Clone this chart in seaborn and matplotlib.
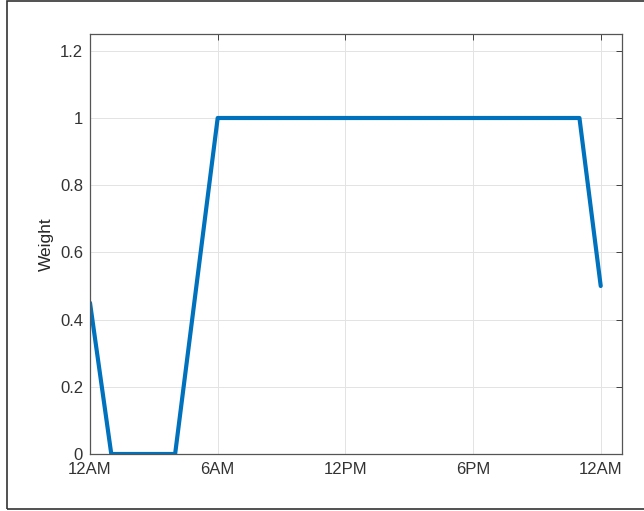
import pandas as pd
import numpy as np
import seaborn as sns
import matplotlib.pyplot as plt
from matplotlib.patches import Rectangle

# data: hour of day vs weight
hours = [0, 1, 4, 6, 23, 24]
weights = [0.45, 0, 0, 1, 1, 0.5]
tick_hours = [0, 6, 12, 18, 24]
tick_labels = ['12AM', '6AM', '12PM', '6PM', '12AM']

df = pd.DataFrame({'hour': hours, 'Weight': weights})

sns.set_style('white')
plt.rcParams['font.family'] = ['Liberation Sans', 'DejaVu Sans']

fig = plt.figure(figsize=(6.44, 5.11), dpi=100)
ax = fig.add_axes([90 / 644, 57 / 511, 532 / 644, 420 / 511])

sns.lineplot(data=df, x='hour', y='Weight', color='#0072BD', linewidth=3.0,
             ax=ax, sort=False)

ax.set_xlim(0, 25)
ax.set_ylim(0, 1.25)
ax.set_xticks(tick_hours)
ax.set_xticklabels(tick_labels)
ax.set_yticks([0, 0.2, 0.4, 0.6, 0.8, 1, 1.2])
ax.set_yticklabels(['0', '0.2', '0.4', '0.6', '0.8', '1', '1.2'])
ax.set_xlabel('')
ax.set_ylabel('Weight', fontsize=12.5, color='#262626', labelpad=4)

ax.grid(True, color='#e3e3e3', linewidth=0.7)
ax.tick_params(direction='in', length=4, width=0.7, colors='#404040',
               labelcolor='#333333', labelsize=12, top=True, right=True)
ax.tick_params(axis='x', pad=6)
ax.tick_params(axis='y', pad=5)
for s in ax.spines.values():
    s.set_visible(True)
    s.set_color('#555555')
    s.set_linewidth(0.9)

# outer frame around the figure
fig.patches.append(Rectangle((7 / 644, 2 / 511), 1.0, 508 / 511,
                             transform=fig.transFigure, fill=False,
                             edgecolor='#333333', linewidth=1.2))

fig.savefig('out.png', dpi=100)
